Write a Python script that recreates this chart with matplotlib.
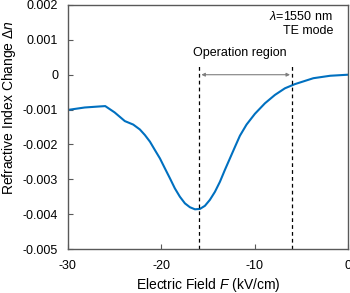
import matplotlib
matplotlib.use("Agg")
import matplotlib.pyplot as plt

field = [-30.0, -28.2, -26.6, -26.0, -25.0, -23.9, -23.0, -22.29, -21.75, -21.21, -20.68,
         -20.14, -19.6, -19.07, -18.54, -18.0, -17.46, -16.93, -16.39, -15.86, -15.32,
         -14.79, -14.25, -13.71, -13.18, -12.64, -12.1, -11.57, -10.86, -9.96, -8.89,
         -7.82, -6.75, -5.68, -3.7, -1.9, 0.0]
dn = [-0.00101, -0.00094, -0.00091, -0.00090, -0.00108, -0.00133, -0.00143, -0.00157,
      -0.00173, -0.00192, -0.00216, -0.00240, -0.00269, -0.00297, -0.00326, -0.00350,
      -0.00369, -0.00380, -0.00386, -0.00385, -0.00376, -0.00359, -0.00336, -0.00307,
      -0.00273, -0.00240, -0.00207, -0.00175, -0.00143, -0.00112, -0.00082, -0.00058,
      -0.00039, -0.00027, -0.00010, -0.00003, 0.0]
region_bounds = [-16.0, -6.0]
xticks = [-30, -20, -10, 0]
yticks = [-0.005, -0.004, -0.003, -0.002, -0.001, 0.0, 0.001, 0.002]
ytick_labels = ["-0.005", "-0.004", "-0.003", "-0.002", "-0.001", "0", "0.001", "0.002"]

plt.rcParams['font.family'] = ['Liberation Sans', 'DejaVu Sans']
plt.rcParams['mathtext.fontset'] = 'custom'
plt.rcParams['mathtext.rm'] = 'Liberation Sans'
plt.rcParams['mathtext.it'] = 'Liberation Sans:italic'
plt.rcParams['axes.unicode_minus'] = False

fig = plt.figure(figsize=(3.5, 2.93), dpi=100)
ax = fig.add_axes([0.194, 0.150, 0.800, 0.833])

ax.plot(field, dn, color='#0070C0', lw=1.5, solid_capstyle='round', solid_joinstyle='round')
for b in region_bounds:
    ax.plot([b, b], [-0.005, 0.00028], color='black', lw=0.9, ls=(0, (3, 2.5)))
ax.annotate('', xy=(region_bounds[1] - 0.2, 0.0), xytext=(region_bounds[0] + 0.3, 0.0),
            arrowprops=dict(arrowstyle='<|-|>', color='#7f7f7f', lw=0.8,
                            mutation_scale=5, shrinkA=0, shrinkB=0))
ax.text(-11.6, 0.00062, 'Operation region', ha='center', va='center', fontsize=9)
ax.text(-1.6, 0.00168, r'$\lambda$=1550 nm', ha='right', va='center', fontsize=9)
ax.text(-1.6, 0.00125, 'TE mode', ha='right', va='center', fontsize=9)

ax.set_xlim(-30, 0)
ax.set_ylim(-0.005, 0.002)
ax.set_xticks(xticks)
ax.set_yticks(yticks)
ax.set_yticklabels(ytick_labels)
ax.tick_params(direction='in', length=3.5, width=0.8, color='#595959', labelsize=9,
               labelcolor='black')
ax.tick_params(axis='y', pad=7)
ax.tick_params(axis='x', pad=8)
for s in ax.spines.values():
    s.set_color('#595959')
    s.set_linewidth(1.0)

ax.set_xlabel(r'Electric Field $F$ (kV/cm)', fontsize=10)
ax.set_ylabel(r'Refractive Index Change $\Delta n$', fontsize=10)
ax.xaxis.set_label_coords(0.5, -0.11)
ax.yaxis.set_label_coords(-0.178, 0.578)
ax.xaxis.label.set_va('top')

fig.savefig('out.png', dpi=100)
